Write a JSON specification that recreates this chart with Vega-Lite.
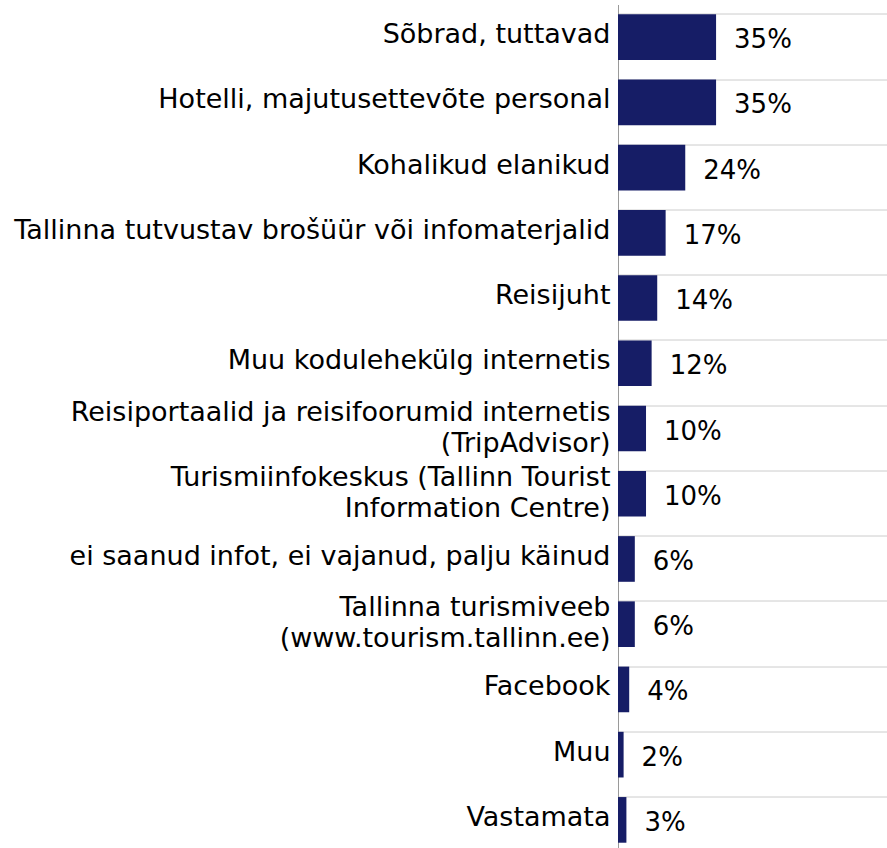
{
  "$schema": "https://vega.github.io/schema/vega-lite/v6.json",
  "width": 269,
  "height": 848,
  "autosize": "none",
  "padding": {"left": 618, "top": 4.5, "right": 0, "bottom": 0},
  "background": "white",
  "config": {"view": {"stroke": null}, "font": "DejaVu Sans"},
  "data": {"values": [
    {"cat": "Sõbrad, tuttavad", "value": 35, "label": "35%"},
    {"cat": "Hotelli, majutusettevõte personal", "value": 35, "label": "35%"},
    {"cat": "Kohalikud elanikud", "value": 24, "label": "24%"},
    {"cat": "Tallinna tutvustav brošüür või infomaterjalid", "value": 17, "label": "17%"},
    {"cat": "Reisijuht", "value": 14, "label": "14%"},
    {"cat": "Muu kodulehekülg internetis", "value": 12, "label": "12%"},
    {"cat": "Reisiportaalid ja reisifoorumid internetis|(TripAdvisor)", "value": 10, "label": "10%"},
    {"cat": "Turismiinfokeskus (Tallinn Tourist|Information Centre)", "value": 10, "label": "10%"},
    {"cat": "ei saanud infot, ei vajanud, palju käinud", "value": 6, "label": "6%"},
    {"cat": "Tallinna turismiveeb|(www.tourism.tallinn.ee)", "value": 6, "label": "6%"},
    {"cat": "Facebook", "value": 4, "label": "4%"},
    {"cat": "Muu", "value": 2, "label": "2%"},
    {"cat": "Vastamata", "value": 3, "label": "3%"}
  ]},
  "resolve": {"axis": {"y": "independent"}},
  "layer": [
    {
      "mark": {"type": "bar", "color": "#161d66"},
      "encoding": {
        "y": {
          "field": "cat", "type": "nominal", "sort": null,
          "scale": {"paddingInner": 0.3, "paddingOuter": 0.15},
          "axis": {
            "title": null, "ticks": false, "grid": false,
            "domainColor": "#9a9a9a", "domainWidth": 1,
            "labelFontSize": 27, "labelFont": "DejaVu Sans", "labelColor": "#000000",
            "labelPadding": 8, "labelLimit": 0, "labelLineHeight": 31,
            "labelOffset": {"expr": "indexof(datum.label, '|') >= 0 ? -16 : -2"},
            "labelExpr": "split(datum.label, '|')"
          }
        },
        "x": {
          "field": "value", "type": "quantitative",
          "scale": {"domain": [0, 96], "zero": true, "nice": false},
          "axis": null
        }
      }
    },
    {
      "mark": {"type": "text", "align": "left", "baseline": "middle", "dx": 18, "dy": 3, "fontSize": 26, "font": "DejaVu Sans", "color": "#000000"},
      "encoding": {
        "y": {
          "field": "cat", "type": "nominal", "sort": null,
          "axis": {
            "orient": "right", "title": null, "ticks": false, "labels": false, "domain": false,
            "grid": true, "gridColor": "#cccccc", "gridWidth": 1, "bandPosition": 0
          }
        },
        "x": {"field": "value", "type": "quantitative"},
        "text": {"field": "label"}
      }
    }
  ]
}
